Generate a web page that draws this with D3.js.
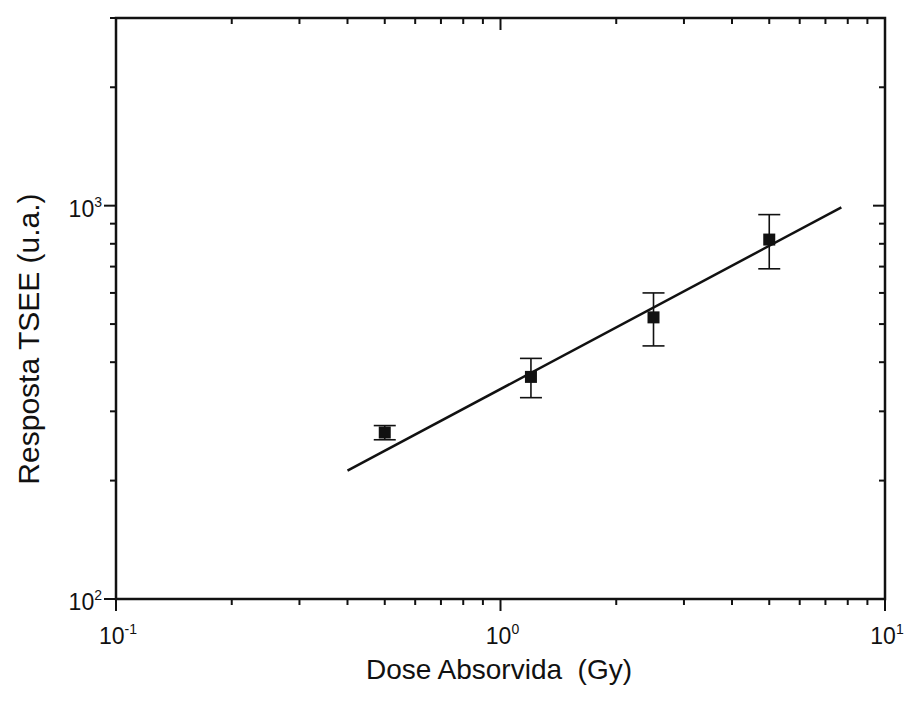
<!DOCTYPE html>
<html>
<head>
<meta charset="utf-8">
<script src="https://cdn.jsdelivr.net/npm/d3@7"></script>
<style>
  html, body { margin: 0; padding: 0; background: #fff; }
  svg { display: block; }
  text { font-family: "Liberation Sans", Arial, Helvetica, sans-serif; fill: #111; }
</style>
</head>
<body>
<svg id="chart" width="906" height="702"></svg>
<script>
// Absorbed dose (Gy) and TSEE response (arbitrary units) with their uncertainties
const dose = [0.5, 1.2, 2.5, 5.0];
const response = [265, 367, 520, 820];
const responseErr = [11, 42, 80, 129];

// Power-law fit line, given by its two ends
const fitDose = [0.4, 7.7];
const fitResponse = [212, 990];

// Axis ranges and decade labels
const xDomain = [0.1, 10];
const yDomain = [100, 3000];
const xDecades = [-1, 0, 1];
const yDecades = [2, 3];

const svg = d3.select("#chart");
const plotLeft = 116, plotRight = 885, plotTop = 18, plotBottom = 599;

const x = d3.scaleLog().domain(xDomain).range([plotLeft, plotRight]);
const y = d3.scaleLog().domain(yDomain).range([plotBottom, plotTop]);

const ink = "#111";

// Tick values: majors at decades, minors at 2..9 multiples
function logTicks(domain) {
  const out = [];
  const lo = Math.floor(Math.log10(domain[0]));
  const hi = Math.ceil(Math.log10(domain[1]));
  for (let e = lo; e <= hi; e++) {
    for (let m = 1; m <= 9; m++) {
      const v = m * Math.pow(10, e);
      if (v >= domain[0] * 0.999 && v <= domain[1] * 1.001) out.push({ v, major: m === 1 });
    }
  }
  return out;
}
const xt = logTicks(xDomain);
const yt = logTicks(yDomain);
const majorLen = 12, minorLen = 6;

const g = svg.append("g");

// Bottom axis: ticks downward; top axis: ticks downward into the plot
g.selectAll(".xb").data(xt).join("line")
  .attr("x1", d => x(d.v)).attr("x2", d => x(d.v))
  .attr("y1", plotBottom).attr("y2", d => plotBottom + (d.major ? majorLen : minorLen))
  .attr("stroke", ink).attr("stroke-width", 2);
g.selectAll(".xt").data(xt).join("line")
  .attr("x1", d => x(d.v)).attr("x2", d => x(d.v))
  .attr("y1", plotTop).attr("y2", d => plotTop + (d.major ? majorLen : minorLen))
  .attr("stroke", ink).attr("stroke-width", 2);

// Left axis: ticks to the left; right axis: ticks to the left into the plot
g.selectAll(".yl").data(yt).join("line")
  .attr("y1", d => y(d.v)).attr("y2", d => y(d.v))
  .attr("x1", plotLeft).attr("x2", d => plotLeft - (d.major ? majorLen : minorLen))
  .attr("stroke", ink).attr("stroke-width", 2);
g.selectAll(".yr").data(yt).join("line")
  .attr("y1", d => y(d.v)).attr("y2", d => y(d.v))
  .attr("x1", plotRight).attr("x2", d => plotRight - (d.major ? majorLen : minorLen))
  .attr("stroke", ink).attr("stroke-width", 2);

// Frame
g.append("rect")
  .attr("x", plotLeft).attr("y", plotTop)
  .attr("width", plotRight - plotLeft).attr("height", plotBottom - plotTop)
  .attr("fill", "none").attr("stroke", ink).attr("stroke-width", 2.5);

// Decade labels
const xl = g.selectAll(".xlab").data(xDecades).join("text")
  .attr("x", d => x(Math.pow(10, d)) + 2).attr("y", plotBottom + 45)
  .attr("text-anchor", "middle").attr("font-size", 23);
xl.append("tspan").text("10");
xl.append("tspan").attr("dy", -10).attr("font-size", 14).text(d => d);

const yl = g.selectAll(".ylab").data(yDecades).join("text")
  .attr("x", plotLeft - 14).attr("y", d => y(Math.pow(10, d)) + 11)
  .attr("text-anchor", "end").attr("font-size", 23);
yl.append("tspan").text("10");
yl.append("tspan").attr("dy", -10).attr("font-size", 14).text(d => d);

// Axis titles
svg.append("text")
  .attr("x", 499).attr("y", 679)
  .attr("text-anchor", "middle").attr("font-size", 28)
  .attr("xml:space", "preserve")
  .text("Dose Absorvida  (Gy)");
svg.append("text")
  .attr("transform", "translate(39,339) rotate(-90)")
  .attr("text-anchor", "middle").attr("font-size", 30)
  .text("Resposta TSEE (u.a.)");

// Fit line
svg.append("line")
  .attr("x1", x(fitDose[0])).attr("y1", y(fitResponse[0]))
  .attr("x2", x(fitDose[1])).attr("y2", y(fitResponse[1]))
  .attr("stroke", ink).attr("stroke-width", 2.5);

// Error bars
const pts = dose.map((d, i) => ({ d, r: response[i], e: responseErr[i] }));
const capW = 11;
const eb = svg.append("g").attr("stroke", ink).attr("stroke-width", 1.6);
eb.selectAll(".v").data(pts).join("line")
  .attr("x1", p => x(p.d)).attr("x2", p => x(p.d))
  .attr("y1", p => y(p.r + p.e)).attr("y2", p => y(p.r - p.e));
eb.selectAll(".t").data(pts).join("line")
  .attr("x1", p => x(p.d) - capW).attr("x2", p => x(p.d) + capW)
  .attr("y1", p => y(p.r + p.e)).attr("y2", p => y(p.r + p.e));
eb.selectAll(".b").data(pts).join("line")
  .attr("x1", p => x(p.d) - capW).attr("x2", p => x(p.d) + capW)
  .attr("y1", p => y(p.r - p.e)).attr("y2", p => y(p.r - p.e));

// Square markers
const s = 12;
svg.selectAll(".pt").data(pts).join("rect")
  .attr("x", p => x(p.d) - s / 2).attr("y", p => y(p.r) - s / 2)
  .attr("width", s).attr("height", s)
  .attr("fill", ink);
</script>
</body>
</html>
